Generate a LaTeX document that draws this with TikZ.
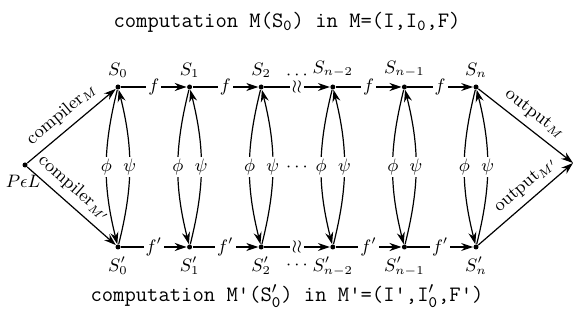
\documentclass[tikz,border=0pt]{standalone}
\usepackage{tikz}
\usetikzlibrary{positioning,arrows.meta,calc}

\begin{document}
\begin{tikzpicture}[x=0.5pt,y=-0.5pt,on grid,node distance=35.8pt,
                    every node/.style={font=\small},
                    dot/.style={circle,fill,inner sep=0pt,minimum size=2.5pt},
                    arr/.style={-{Stealth[length=6pt,width=4pt]},semithick},
                    lbl/.style={fill=white,inner sep=1pt},
                    title/.style={font=\fontsize{11}{13}\selectfont\ttfamily}]
\useasboundingbox (0,0) rectangle (574,326);
% top row
\node[dot,label=above:$S_0$]                   (t0) at (118,87) {};
\node[dot,right=of t0,label=above:$S_1$]       (t1) {};
\node[dot,right=of t1,label=above:$S_2$]       (t2) {};
\node[dot,right=of t2,label=above:$S_{n-2}$]   (t3) {};
\node[dot,right=of t3,label=above:$S_{n-1}$]   (t4) {};
\node[dot,right=of t4,label=above:$S_n$]       (t5) {};
% bottom row
\node[dot,below=80pt of t0,label=below:$S'_0$]     (b0) {};
\node[dot,below=80pt of t1,label=below:$S'_1$]     (b1) {};
\node[dot,below=80pt of t2,label=below:$S'_2$]     (b2) {};
\node[dot,below=80pt of t3,label=below:$S'_{n-2}$] (b3) {};
\node[dot,below=80pt of t4,label=below:$S'_{n-1}$] (b4) {};
\node[dot,below=80pt of t5,label=below:$S'_n$]     (b5) {};
\node[dot,label={[xshift=-1pt]below:$P\epsilon L$}] (pel) at (25,165) {};
\coordinate (out) at (573,163);
% dots
\node (topdots) at ($(t2)!0.5!(t3)+(0,-12)$) {$\cdots$};
\node (middots) at ($(t2)!0.5!(b3)$) {$\cdots$};
\node (botdots) at ($(b2)!0.5!(b3)+(0,18)$) {$\cdots$};
% rows
\draw[arr] (t0) -- node[lbl]{$f$} (t1);
\draw[arr] (t1) -- node[lbl]{$f$} (t2);
\draw[arr] (t2) -- node[lbl]{$\wr\wr$} (t3);
\draw[arr] (t3) -- node[lbl]{$f$} (t4);
\draw[arr] (t4) -- node[lbl]{$f$} (t5);
\draw[arr] (b0) -- node[lbl]{$f'$} (b1);
\draw[arr] (b1) -- node[lbl]{$f'$} (b2);
\draw[arr] (b2) -- node[lbl]{$\wr\wr$} (b3);
\draw[arr] (b3) -- node[lbl]{$f'$} (b4);
\draw[arr] (b4) -- node[lbl]{$f'$} (b5);
% phi / psi
\draw[arr] (t0) to[bend right=14] node[lbl]{$\phi$} (b0);
\draw[arr] (b0) to[bend right=14] node[lbl]{$\psi$} (t0);
\draw[arr] (t1) to[bend right=14] node[lbl]{$\phi$} (b1);
\draw[arr] (b1) to[bend right=14] node[lbl]{$\psi$} (t1);
\draw[arr] (t2) to[bend right=14] node[lbl]{$\phi$} (b2);
\draw[arr] (b2) to[bend right=14] node[lbl]{$\psi$} (t2);
\draw[arr] (t3) to[bend right=14] node[lbl]{$\phi$} (b3);
\draw[arr] (b3) to[bend right=14] node[lbl]{$\psi$} (t3);
\draw[arr] (t4) to[bend right=14] node[lbl]{$\phi$} (b4);
\draw[arr] (b4) to[bend right=14] node[lbl]{$\psi$} (t4);
\draw[arr] (t5) to[bend right=14] node[lbl]{$\phi$} (b5);
\draw[arr] (b5) to[bend right=14] node[lbl]{$\psi$} (t5);
% compilers and outputs
\draw[arr] (pel) -- node[sloped,above]{compiler$_M$} (t0);
\draw[arr] (pel) -- node[sloped,above,pos=0.42]{compiler$_{M'}$} (b0);
\draw[arr] (t5) -- node[sloped,above]{output$_M$} (out);
\draw[arr] (b5) -- node[sloped,above,pos=0.6]{output$_{M'}$} (out);
% titles
\node[title] (toptitle) at (287,22) {computation M(S\textsubscript{0}) in M=(I,I\textsubscript{0},F)};
\node[title] (bottitle) at (287,296) {computation M'(S$'_{\mathtt{0}}$) in M'=(I',I$'_{\mathtt{0}}$,F')};
\end{tikzpicture}
\end{document}
